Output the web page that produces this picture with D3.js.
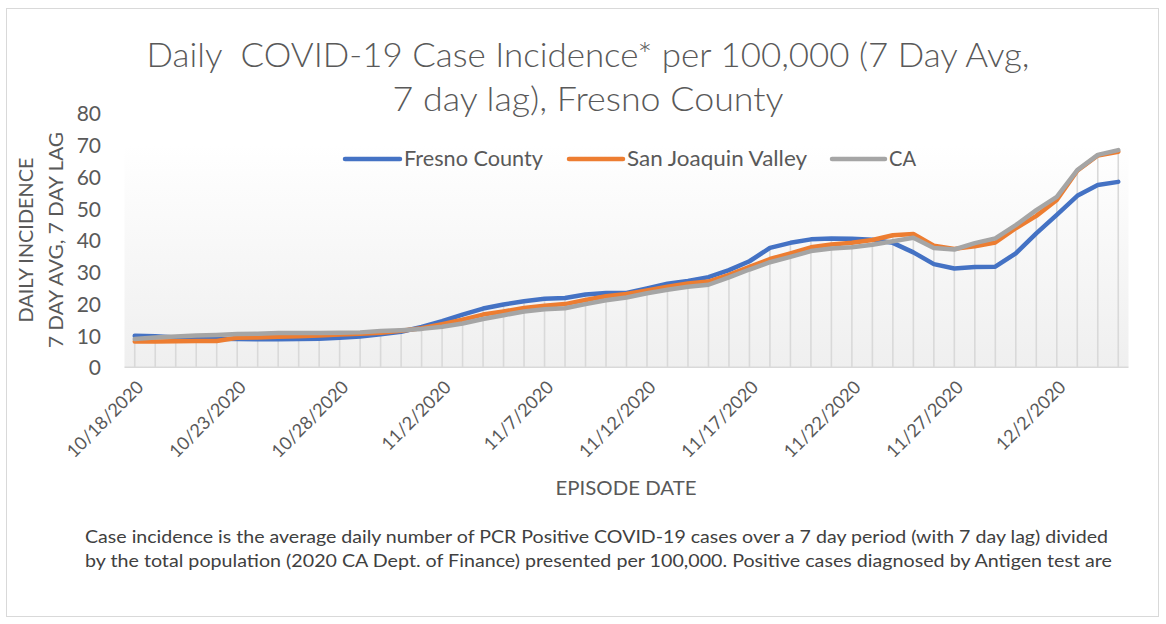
<!DOCTYPE html>
<html><head><meta charset="utf-8">
<script src="https://cdn.jsdelivr.net/npm/d3@7"></script>
<style>
body{margin:0;background:#fff}
svg{display:block}
text{font-family:Lato,"Open Sans",sans-serif}
</style>
</head><body>
<svg id="chart" width="1166" height="624"></svg>
<script>
const dates = ["10/18/2020","10/19/2020","10/20/2020","10/21/2020","10/22/2020","10/23/2020","10/24/2020","10/25/2020","10/26/2020","10/27/2020",
"10/28/2020","10/29/2020","10/30/2020","10/31/2020","11/1/2020","11/2/2020","11/3/2020","11/4/2020","11/5/2020","11/6/2020",
"11/7/2020","11/8/2020","11/9/2020","11/10/2020","11/11/2020","11/12/2020","11/13/2020","11/14/2020","11/15/2020","11/16/2020",
"11/17/2020","11/18/2020","11/19/2020","11/20/2020","11/21/2020","11/22/2020","11/23/2020","11/24/2020","11/25/2020","11/26/2020",
"11/27/2020","11/28/2020","11/29/2020","11/30/2020","12/1/2020","12/2/2020","12/3/2020","12/4/2020","12/5/2020"];
const tickDates = ["10/18/2020","10/23/2020","10/28/2020","11/2/2020","11/7/2020","11/12/2020","11/17/2020","11/22/2020","11/27/2020","12/2/2020"];
const fresno = [9.9,9.8,9.4,9.2,9.0,8.9,8.8,8.8,8.9,9.0,
9.3,9.7,10.4,11.2,12.7,14.5,16.6,18.5,19.8,20.8,
21.6,21.8,22.9,23.4,23.4,24.8,26.3,27.2,28.4,30.6,
33.4,37.6,39.2,40.3,40.6,40.5,40.2,39.2,36.2,32.5,
31.1,31.6,31.7,35.9,42.2,48.0,54.0,57.4,58.4];
const sjv = [8.1,8.1,8.2,8.3,8.3,9.3,9.4,9.6,9.8,10.0,
10.3,10.6,10.9,11.5,12.3,13.6,15.0,16.6,17.6,18.7,
19.4,19.9,21.2,22.4,23.1,24.2,25.4,26.4,27.0,29.1,
31.6,34.1,35.9,37.8,38.7,39.2,40.1,41.6,42.0,38.3,
37.3,38.1,39.3,43.8,47.7,52.7,61.9,66.7,67.9];
const ca = [8.9,9.4,9.7,10.0,10.2,10.5,10.6,10.8,10.8,10.8,
10.9,11.0,11.4,11.7,12.1,12.8,13.8,15.2,16.4,17.6,
18.3,18.6,19.9,21.1,22.0,23.3,24.4,25.4,26.0,28.3,
30.8,33.1,34.8,36.6,37.4,37.8,38.6,39.7,40.8,37.6,
37.1,39.1,40.6,44.8,49.5,53.7,62.1,66.9,68.4];
const seriesNames = ["Fresno County","San Joaquin Valley","CA"];
const seriesColors = ["#4472C4","#ED7D31","#A5A5A5"];
const yTicks = [0,10,20,30,40,50,60,70,80];
const titleLines = ["Daily  COVID-19 Case Incidence* per 100,000 (7 Day Avg,","7 day lag), Fresno County"];
const yTitleLines = ["DAILY INCIDENCE","7 DAY AVG, 7 DAY LAG"];
const xTitle = "EPISODE DATE";
const noteLines = ["Case incidence is the average daily number of PCR Positive COVID-19 cases over a 7 day period (with 7 day lag) divided",
"by the total population (2020 CA Dept. of Finance) presented per 100,000. Positive cases diagnosed by Antigen test are"];

const svg = d3.select("#chart");
const series = [fresno, sjv, ca];
const plot = {left:124.5, right:1128.5, top:113.3, bottom:367.3};

// outer border
svg.append("rect").attr("x",6.5).attr("y",8.5).attr("width",1152).attr("height",608)
  .attr("fill","#fff").attr("stroke","#d9d9d9").attr("stroke-width",1);

const x = d3.scaleBand().domain(dates).range([plot.left, plot.right]).paddingInner(0).paddingOuter(0);
const xc = d => x(d) + x.bandwidth()/2;
const y = d3.scaleLinear().domain([0,80]).range([plot.bottom, plot.top]);

// plot background gradient
const defs = svg.append("defs");
const grad = defs.append("linearGradient").attr("id","pg").attr("x1",0).attr("y1",0).attr("x2",0).attr("y2",1);
grad.append("stop").attr("offset","0%").attr("stop-color","#ffffff");
grad.append("stop").attr("offset","100%").attr("stop-color","#efefef");
svg.append("rect").attr("x",plot.left).attr("y",y(70)).attr("width",plot.right-plot.left)
  .attr("height",plot.bottom-y(70)).attr("fill","url(#pg)");

// drop lines
svg.append("g").selectAll("line").data(dates).join("line")
  .attr("x1",d=>xc(d)).attr("x2",d=>xc(d))
  .attr("y1",y(0)).attr("y2",(d,i)=>y(d3.max(series, s=>s[i])))
  .attr("stroke","#d9d9d9").attr("stroke-width",1.6);

// x axis baseline
svg.append("line").attr("x1",plot.left).attr("x2",plot.right).attr("y1",y(0)).attr("y2",y(0))
  .attr("stroke","#d9d9d9").attr("stroke-width",1.5);

// y tick labels
const yAxis = d3.axisLeft(y).tickValues(yTicks).tickSize(0).tickPadding(0);
const gy = svg.append("g").attr("transform","translate(101,0)").call(yAxis);
gy.select(".domain").remove();
gy.selectAll("text").attr("fill","#595959").style("font-size","21px").style("font-family","Lato, sans-serif").attr("dy","0.36em");

// x tick labels
const xAxis = d3.axisBottom(x).tickValues(tickDates).tickSize(0).tickPadding(0);
const gx = svg.append("g").attr("transform",`translate(0,${y(0)})`).call(xAxis);
gx.select(".domain").remove();
gx.selectAll("text").attr("fill","#595959").style("font-size","18px").style("font-family","Lato, sans-serif")
  .attr("text-anchor","end").attr("y",0).attr("dy",0)
  .attr("transform","translate(10,21) rotate(-45)");

// lines
const line = d3.line().x((d,i)=>xc(dates[i])).y(d=>y(d));
series.forEach((s,k)=>{
  svg.append("path").datum(s).attr("d",line).attr("fill","none")
    .attr("stroke",seriesColors[k]).attr("stroke-width",4.5)
    .attr("stroke-linejoin","round").attr("stroke-linecap","round");
});

// title
const tPos = [{y:67, w:883}, {y:111, w:391}];
titleLines.forEach((t,i)=>{
  svg.append("text").attr("x",588).attr("y",tPos[i].y).attr("text-anchor","middle")
    .attr("fill","#595959").style("font-size","33px").style("font-weight","300").attr("xml:space","preserve")
    .attr("textLength",tPos[i].w).attr("lengthAdjust","spacingAndGlyphs").text(t);
});

// y title
const ytPos = [{x:33,w:165},{x:63,w:216}];
yTitleLines.forEach((t,i)=>{
  svg.append("text").attr("transform",`translate(${ytPos[i].x},240) rotate(-90)`).attr("text-anchor","middle")
    .attr("fill","#595959").style("font-size","20px")
    .attr("textLength",ytPos[i].w).attr("lengthAdjust","spacingAndGlyphs").text(t);
});

// x title
svg.append("text").attr("x",626).attr("y",495).attr("text-anchor","middle").attr("fill","#595959")
  .style("font-size","19px").attr("textLength",141).attr("lengthAdjust","spacingAndGlyphs").text(xTitle);

// legend
const legItems = [{x1:345,x2:400,tx:404,tw:139},{x1:569,x2:623,tx:627,tw:180},{x1:832,x2:885,tx:889,tw:27}];
seriesNames.forEach((n,i)=>{
  const L = legItems[i];
  svg.append("line").attr("x1",L.x1).attr("x2",L.x2).attr("y1",159).attr("y2",159)
    .attr("stroke",seriesColors[i]).attr("stroke-width",4.5).attr("stroke-linecap","round");
  svg.append("text").attr("x",L.tx).attr("y",166).attr("fill","#595959").style("font-size","21px")
    .attr("textLength",L.tw).attr("lengthAdjust","spacingAndGlyphs").text(n);
});

// footnote
const nPos = [{y:543,w:1023},{y:567,w:1027}];
noteLines.forEach((t,i)=>{
  svg.append("text").attr("x",85).attr("y",nPos[i].y).attr("fill","#404040").style("font-size","17px")
    .attr("textLength",nPos[i].w).attr("lengthAdjust","spacingAndGlyphs").text(t);
});
</script>
</body></html>
